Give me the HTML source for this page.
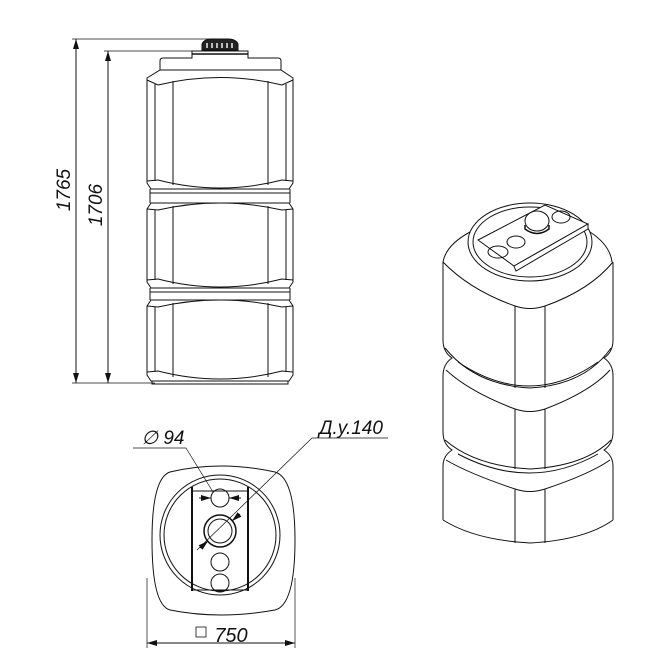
<!DOCTYPE html>
<html><head><meta charset="utf-8"><style>
html,body{margin:0;padding:0;background:#fff;}
svg{display:block;}
text{font-family:"Liberation Sans",sans-serif;font-style:italic;fill:#111;}
</style></head><body>
<svg width="668" height="667" viewBox="0 0 668 667" xmlns="http://www.w3.org/2000/svg">
<defs>
<marker id="a" viewBox="0 0 10 6" refX="10" refY="3" markerWidth="10" markerHeight="6" orient="auto-start-reverse" markerUnits="userSpaceOnUse"><path d="M0,0 L10,3 L0,6 Z" fill="#111"/></marker>
</defs>
<g fill="none" stroke="#111" stroke-width="1">
<line x1="72" y1="39" x2="215" y2="39" stroke-width="0.7"/>
<line x1="104" y1="51" x2="195" y2="51" stroke-width="0.7"/>
<line x1="72" y1="383" x2="155" y2="383" stroke-width="0.7"/>
<line x1="76" y1="39" x2="76" y2="383" marker-start="url(#a)" marker-end="url(#a)"/>
<line x1="108" y1="51" x2="108" y2="383" marker-start="url(#a)" marker-end="url(#a)"/>
<path d="M202,50 L202,44 Q204,39 212,39 L228,39 Q236,39 238,44 L238,50 Z" fill="#222"/>
<g stroke="#fff" stroke-width="1.4"><line x1="207" y1="43" x2="207" y2="48"/><line x1="212" y1="43" x2="212" y2="48"/><line x1="217" y1="43" x2="217" y2="48"/><line x1="222" y1="43" x2="222" y2="48"/><line x1="227" y1="43" x2="227" y2="48"/><line x1="232" y1="43" x2="232" y2="48"/></g>
<path d="M160,70 L160,61 Q160,58 163,58 L192,58 L192,51 L248,51 L248,58 L278,58 Q281,58 281,61 L281,70"/>
<line x1="192" y1="54" x2="248" y2="54" stroke-width="1.5"/>
<path d="M160,70 L281,70 L293,78 L293,183 L289,189 L151,189 L147,183 L147,78 Z"/>
<path d="M147,80 L158,85 Q220,70 282,85 L293,80"/>
<path d="M147,181 L158,180 Q220,196 282,180 L293,181"/>
<line x1="155" y1="84" x2="155" y2="181"/><line x1="286" y1="84" x2="286" y2="181"/>
<line x1="173" y1="81" x2="173" y2="185"/><line x1="268" y1="81" x2="268" y2="185"/>
<line x1="150" y1="189" x2="150" y2="203"/><line x1="290" y1="189" x2="290" y2="203"/>
<line x1="150" y1="193" x2="290" y2="193"/>
<path d="M151,203 L289,203 L293,209 L293,282 L289,288 L151,288 L147,282 L147,209 Z"/>
<path d="M147,209 L158,210 Q220,196 282,210 L293,209"/>
<path d="M147,280 L158,279 Q220,295 282,279 L293,280"/>
<line x1="155" y1="210" x2="155" y2="280"/><line x1="286" y1="210" x2="286" y2="280"/>
<line x1="173" y1="206" x2="173" y2="284"/><line x1="268" y1="206" x2="268" y2="284"/>
<line x1="150" y1="288" x2="150" y2="300"/><line x1="290" y1="288" x2="290" y2="300"/>
<line x1="150" y1="292" x2="290" y2="292"/>
<path d="M151,300 L289,300 L293,306 L293,375 L289,381 L151,381 L147,375 L147,306 Z"/>
<path d="M147,306 L158,307 Q220,293 282,307 L293,306"/>
<path d="M147,372 L158,371 Q220,387 282,371 L293,372"/>
<line x1="155" y1="307" x2="155" y2="372"/><line x1="286" y1="307" x2="286" y2="372"/>
<line x1="173" y1="303" x2="173" y2="377"/><line x1="268" y1="303" x2="268" y2="377"/>
<path d="M152,381 L152,384 L288,384 L288,381"/>

<path d="M152,540 Q152,478 170,472 Q220,460 275,472 Q295,478 295,540 Q295,605 275,610 Q220,620 170,610 Q152,605 152,540 Z"/>
<circle cx="220" cy="535" r="60"/>
<circle cx="220" cy="535" r="56"/>
<path d="M192,487 L192,591 M248,487 L248,591" stroke-width="2"/>
<line x1="192" y1="491" x2="248" y2="491"/>
<line x1="192" y1="590" x2="248" y2="590"/>
<circle cx="220" cy="498" r="9"/>
<circle cx="220" cy="531" r="16" stroke-width="1.5"/>
<circle cx="220" cy="531" r="12"/>
<circle cx="220" cy="562" r="9"/>
<circle cx="220" cy="583" r="9"/>
<line x1="199" y1="498" x2="211" y2="498" marker-end="url(#a)"/>
<line x1="241" y1="498" x2="229" y2="498" marker-end="url(#a)"/>
<line x1="133" y1="448" x2="186" y2="448" stroke-width="0.7"/>
<line x1="186" y1="448" x2="213" y2="492" stroke-width="0.7"/>
<line x1="312" y1="438" x2="388" y2="438" stroke-width="0.7"/>
<line x1="312" y1="438" x2="197" y2="550" stroke-width="0.7"/>
<line x1="240" y1="514" x2="232" y2="521" marker-end="url(#a)"/>
<line x1="200" y1="548" x2="208" y2="541" marker-end="url(#a)"/>
<line x1="147" y1="578" x2="147" y2="648" stroke-width="0.7"/>
<line x1="295" y1="578" x2="295" y2="648" stroke-width="0.7"/>
<line x1="147" y1="643" x2="295" y2="643" marker-start="url(#a)" marker-end="url(#a)"/>
<rect x="196" y="627" width="10" height="10" stroke-width="0.8"/>

<path d="M443,262 Q446,245 470,232"/>
<path d="M590,232 Q610,245 612,262"/>
<ellipse cx="530" cy="242" rx="62" ry="39"/>
<ellipse cx="530" cy="242" rx="57" ry="35"/>
<path d="M478,240 L545,205 L588,224 L514,266 Z" fill="#fff"/>
<path d="M514,266 L588,224 L588,229 L516,271 Z" fill="#fff"/>
<ellipse cx="498" cy="252" rx="10" ry="6"/>
<ellipse cx="516" cy="242" rx="9" ry="6"/>
<ellipse cx="561" cy="217" rx="9" ry="6"/>
<path d="M525,225 L525,229 Q537,238 549,229 L549,225" fill="#fff" stroke-width="1.5"/>
<ellipse cx="537" cy="221" rx="12" ry="10" fill="#fff"/>
<path d="M443,262 L443,340 Q443,352 452,358 Q443,364 443,376 L443,432 Q443,444 452,450 Q443,456 443,466 L443,520"/>
<path d="M613,262 L613,340 Q613,352 604,358 Q613,364 613,376 L613,432 Q613,444 604,450 Q613,456 613,466 L613,520"/>
<path d="M443,262 Q470,290 515,306 Q530,311 545,306 Q590,290 613,262"/>
<path d="M445,348 Q475,385 530,388 Q585,385 611,348"/>
<line x1="515" y1="306" x2="515" y2="388"/><line x1="545" y1="306" x2="545" y2="388"/>
<path d="M458,362 Q530,410 598,362"/>
<path d="M446,370 Q470,392 515,409 Q530,414 545,409 Q590,392 610,370"/>
<path d="M445,440 Q475,466 530,469 Q585,466 611,440"/>
<line x1="515" y1="409" x2="515" y2="469"/><line x1="545" y1="409" x2="545" y2="469"/>
<path d="M458,454 Q530,492 598,454"/>
<path d="M446,460 Q470,474 515,489 Q530,494 545,489 Q590,474 610,460"/>
<path d="M443,520 Q475,540 530,543 Q585,540 613,520"/>
<line x1="515" y1="489" x2="515" y2="543"/><line x1="545" y1="489" x2="545" y2="543"/>
</g>
<text x="70" y="190" font-size="19" transform="rotate(-90 70 190)" text-anchor="middle">1765</text>
<text x="102" y="205" font-size="19" transform="rotate(-90 102 205)" text-anchor="middle">1706</text>
<text x="163" y="444" font-size="19" text-anchor="middle">∅ 94</text>
<text x="351" y="434" font-size="19" text-anchor="middle">Д.у.140</text>
<text x="231" y="642" font-size="20" text-anchor="middle">750</text>
</svg>
</body></html>
